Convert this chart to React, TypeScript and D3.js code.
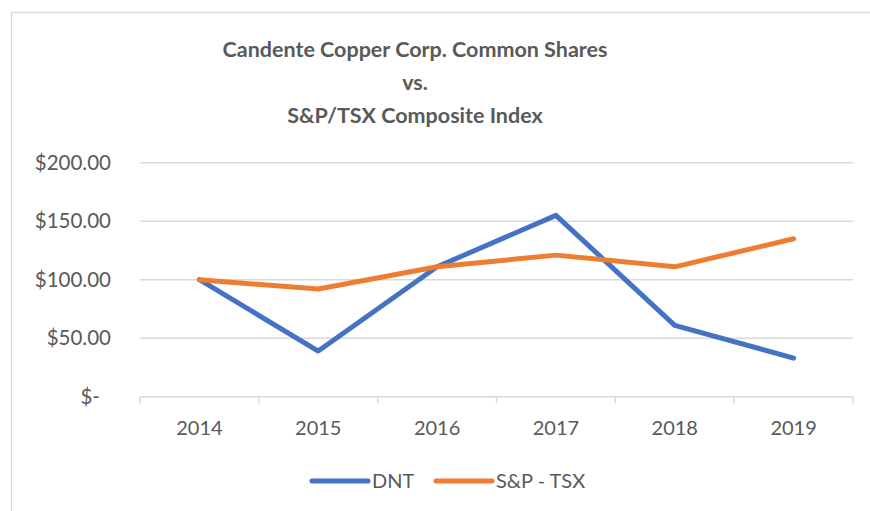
import React from 'react';
import * as d3 from 'd3';

const years = ['2014', '2015', '2016', '2017', '2018', '2019'];
const dntValues = [100, 39, 111, 155, 61, 33];
const tsxValues = [100, 92, 111, 121, 111, 135];
const yTicks = [0, 50, 100, 150, 200];
const titleLines = ['Candente Copper Corp. Common Shares', 'vs.', 'S&P/TSX Composite Index'];

const W = 870;
const H = 511;
const FONT = 'Lato, "Open Sans", sans-serif';
const TEXT = '#595959';
const GRID = '#d9d9d9';

const App = () => {
  const x = d3.scaleBand().domain(years).range([140, 853]);
  const y = d3.scaleLinear().domain([0, 200]).range([396.7, 162.7]);

  const line = d3.line<number>()
    .x((d, i) => x(years[i])! + x.bandwidth() / 2)
    .y(d => y(d));

  const fmt = (v: number) => (v === 0 ? '$-' : '$' + d3.format(',.2f')(v));

  const series = [
    { name: 'DNT', values: dntValues, color: '#4472C4' },
    { name: 'S&P - TSX', values: tsxValues, color: '#ED7D31' },
  ];

  const tickXs = years.map(yr => x(yr)!).concat([x.range()[1]]);

  return (
    <svg width={W} height={H} style={{ position: 'absolute', left: 0, top: 0, background: '#fff' }}>
      {/* chart area border */}
      <path d={`M11.5,${H} V12.5 H${W}`} fill="none" stroke={GRID} strokeWidth={1.3} />

      {/* title */}
      {titleLines.map((t, i) => (
        <text key={t} x={415} y={57 + i * 33} textAnchor="middle" fontFamily={FONT}
          fontWeight="bold" fontSize={21.5} fill={TEXT}>{t}</text>
      ))}

      {/* gridlines */}
      {yTicks.filter(v => v > 0).map(v => (
        <line key={v} x1={140} x2={853} y1={y(v)} y2={y(v)} stroke={GRID} strokeWidth={1.5} />
      ))}

      {/* y labels */}
      {yTicks.map(v => (
        <text key={v} x={v === 0 ? 100 : 111} y={y(v) + 7} textAnchor="end" fontFamily={FONT}
          fontSize={20.5} fill={TEXT}>{fmt(v)}</text>
      ))}

      {/* x axis */}
      <line x1={140} x2={853} y1={y(0)} y2={y(0)} stroke={GRID} strokeWidth={1.5} />
      {tickXs.map((tx, i) => (
        <line key={i} x1={tx} x2={tx} y1={y(0)} y2={y(0) + 6.5} stroke={GRID} strokeWidth={1.5} />
      ))}
      {years.map(yr => (
        <text key={yr} x={x(yr)! + x.bandwidth() / 2} y={435} textAnchor="middle" fontFamily={FONT}
          fontSize={20} fill={TEXT}>{yr}</text>
      ))}

      {/* series */}
      {series.map(s => (
        <path key={s.name} d={line(s.values)!} fill="none" stroke={s.color} strokeWidth={5}
          strokeLinecap="round" strokeLinejoin="round" />
      ))}

      {/* legend */}
      {series.map((s, i) => {
        const lx = i === 0 ? 312 : 436;
        return (
          <g key={s.name}>
            <line x1={lx} x2={lx + 56} y1={481} y2={481} stroke={s.color} strokeWidth={5} strokeLinecap="round" />
            <text x={lx + 60} y={488} fontFamily={FONT} fontSize={20} fill={TEXT}>{s.name}</text>
          </g>
        );
      })}
    </svg>
  );
};

export default App;
